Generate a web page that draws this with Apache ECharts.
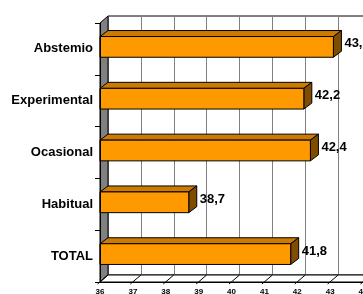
<!DOCTYPE html>
<html>
<head>
<meta charset="utf-8">
<script src="https://cdn.jsdelivr.net/npm/echarts@6/dist/echarts.min.js"></script>
<style>
  html, body { margin: 0; padding: 0; background: #fff; }
  #chart { width: 363px; height: 294px; }
</style>
</head>
<body>
<div id="chart"></div>
<script>
// datos del grafico
const categories = ['Abstemio', 'Experimental', 'Ocasional', 'Habitual', 'TOTAL'];
const values = [43.1, 42.2, 42.4, 38.7, 41.8];
const xTicks = [36, 37, 38, 39, 40, 41, 42, 43, 44];

const FONT = '"Liberation Sans", Arial, sans-serif';
const DX = 8, DY = 7;      // profundidad de las paredes
const BDX = 8, BDY = 6;    // profundidad de las barras

let chart = echarts.init(document.getElementById('chart'));

// paredes: lateral gris y suelo con diagonales
function renderWalls(params, api) {
  const band = api.size([0, 1])[1];
  const first = api.coord([xTicks[0], 0]);
  const x0 = first[0];
  const top = first[1] - band / 2;
  const bottom = top + band * categories.length;
  const x1 = api.coord([xTicks[xTicks.length - 1], 0])[0];
  const children = [
    {
      type: 'polygon',
      shape: { points: [[x0, top], [x0 + DX, top - DY], [x0 + DX, bottom - DY], [x0, bottom]] },
      style: { fill: '#808080', stroke: '#000', lineWidth: 1 }
    },
    {
      type: 'polygon',
      shape: { points: [[x0, bottom], [x1, bottom], [x1 + DX, bottom - DY], [x0 + DX, bottom - DY]] },
      style: { fill: '#fff', stroke: '#000', lineWidth: 1 }
    }
  ];
  xTicks.forEach(t => {
    const x = api.coord([t, 0])[0];
    children.push({
      type: 'line',
      shape: { x1: x - 2.5, y1: bottom + 2, x2: x + DX, y2: bottom - DY },
      style: { stroke: '#000', lineWidth: 1 }
    });
  });
  return { type: 'group', children: children };
}

// barras 3D
function renderBar(params, api) {
  const v = api.value(0);
  const i = api.value(1);
  const band = api.size([0, 1])[1];
  const end = api.coord([v, i]);
  const start = api.coord([xTicks[0], i]);
  const xl = start[0], xr = end[0];
  const cy = end[1] - 2;
  const h = band * 0.4;
  const ft = cy - h / 2, fb = cy + h / 2;
  const line = { stroke: '#000', lineWidth: 1 };
  return {
    type: 'group',
    children: [
      {
        type: 'polygon',
        shape: { points: [[xl, ft], [xl + BDX, ft - BDY], [xr + BDX, ft - BDY], [xr, ft]] },
        style: Object.assign({ fill: '#CC7A00' }, line)
      },
      {
        type: 'polygon',
        shape: { points: [[xr, ft], [xr + BDX, ft - BDY], [xr + BDX, fb - BDY], [xr, fb]] },
        style: Object.assign({ fill: '#7F4C00' }, line)
      },
      {
        type: 'rect',
        shape: { x: xl, y: ft, width: xr - xl, height: fb - ft },
        style: Object.assign({ fill: '#FF9900' }, line)
      },
      {
        type: 'text',
        x: xr + 11,
        y: cy - 3,
        style: {
          text: v.toFixed(1).replace('.', ','),
          font: 'bold 13px ' + FONT,
          fill: '#000',
          verticalAlign: 'middle',
          align: 'left'
        }
      }
    ]
  };
}

let option = {
  animation: false,
  grid: [
    { left: 100, top: 23, width: 263, height: 259, show: false,
      containLabel: false, outerBoundsMode: 'none' },
    { left: 100 + DX, top: 23 - DY, width: 263, height: 259, show: true,
      containLabel: false, outerBoundsMode: 'none',
      backgroundColor: '#fff', borderColor: '#000', borderWidth: 1 }
  ],
  xAxis: [
    {
      gridIndex: 0, type: 'value', min: 36, max: 44, interval: 1,
      axisLine: { show: true, lineStyle: { color: '#000', width: 1 } },
      axisTick: { show: false },
      splitLine: { show: false },
      axisLabel: {
        color: '#000', fontSize: 8, fontWeight: 'bold', fontFamily: FONT, margin: 6,
        showMinLabel: true, showMaxLabel: true
      }
    },
    {
      gridIndex: 1, type: 'value', min: 36, max: 44, interval: 1,
      axisLine: { show: false }, axisTick: { show: false }, axisLabel: { show: false },
      splitLine: { show: true, lineStyle: { color: '#808080', width: 1 } }
    }
  ],
  yAxis: [
    {
      gridIndex: 0, type: 'category', data: categories, inverse: true,
      axisLine: { show: true, lineStyle: { color: '#000', width: 1 } },
      axisTick: { show: true, length: 5, lineStyle: { color: '#000' } },
      axisLabel: {
        color: '#000', fontSize: 13, fontWeight: 'bold', fontFamily: FONT, margin: 7,
        padding: [0, 0, 4, 0]
      },
      z: 5
    },
    {
      gridIndex: 1, type: 'category', data: categories, inverse: true, show: false
    }
  ],
  series: [
    {
      type: 'custom',
      xAxisIndex: 0, yAxisIndex: 0,
      renderItem: renderWalls,
      data: [[xTicks[0], 0]],
      silent: true,
      z: 1
    },
    {
      type: 'custom',
      xAxisIndex: 0, yAxisIndex: 0,
      renderItem: renderBar,
      encode: { x: 0, y: 1 },
      data: values.map((v, i) => [v, i]),
      z: 3
    }
  ]
};

chart.setOption(option);
</script>
</body>
</html>
